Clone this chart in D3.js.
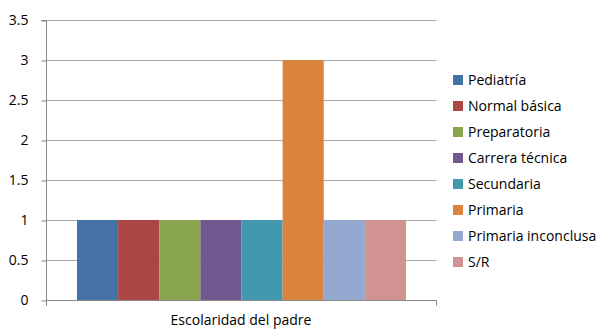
<!DOCTYPE html>
<html><head><meta charset="utf-8">
<script src="https://cdn.jsdelivr.net/npm/d3@7"></script>
<style>body{margin:0;background:#fff}svg{display:block}</style>
</head><body><svg id="c" width="598" height="329"></svg>
<script>
const category = "Escolaridad del padre";
const seriesNames = ["Pediatría","Normal básica","Preparatoria","Carrera técnica","Secundaria","Primaria","Primaria inconclusa","S/R"];
const seriesValues = [1,1,1,1,1,3,1,1];
const seriesColors = ["#4572A7","#AA4643","#89A54E","#71588F","#4198AF","#DB843D","#93A9CF","#D19392"];
const yTicks = [0,0.5,1,1.5,2,2.5,3,3.5];

const svg = d3.select("#c");
const font = "'Open Sans', sans-serif";
const fs = 14;
const L = 46.5, R = 436.5, T = 20, B = 300;
const y = d3.scaleLinear().domain([0,3.5]).range([B,T]);
const x0 = d3.scaleBand().domain([category]).range([L,R]).paddingOuter(0);
const x1 = d3.scaleBand().domain(seriesNames).range([x0(category)+30.5, x0(category)+x0.bandwidth()-30.5]);

// gridlines
svg.append("g").selectAll("line").data(yTicks.filter(d=>d>0)).join("line")
  .attr("x1",L).attr("x2",R).attr("y1",d=>Math.round(y(d))+0.5).attr("y2",d=>Math.round(y(d))+0.5)
  .attr("stroke","#a6a6a6").attr("stroke-width",1);

// bars
svg.append("g").selectAll("rect").data(seriesNames).join("rect")
  .attr("x",(d)=>x1(d)).attr("width",x1.bandwidth())
  .attr("y",(d,i)=>y(seriesValues[i])).attr("height",(d,i)=>B-y(seriesValues[i]))
  .attr("fill",(d,i)=>seriesColors[i]);

// y axis
const ya = svg.append("g").attr("transform",`translate(${L},0.5)`)
  .call(d3.axisLeft(y).tickValues(yTicks).tickFormat(d=>String(d)).tickSize(5).tickPadding(13));
ya.select(".domain").attr("stroke","#868686").attr("d",`M-5,${T}H0V${B+5}`);
ya.selectAll(".tick line").attr("stroke","#868686");
ya.selectAll("text").attr("font-family",font).attr("font-size",fs).attr("fill","#000").attr("dy","0.32em");

// x axis
const xa = svg.append("g").attr("transform",`translate(0,${B+0.5})`)
  .call(d3.axisBottom(x0).tickSize(0).tickFormat(""));
xa.select(".domain").attr("stroke","#868686").attr("d",`M${L},5V0H${R}V5`);
svg.append("text").attr("x",x0(category)+x0.bandwidth()/2-0.5).attr("y",325)
  .attr("text-anchor","middle").attr("font-family",font).attr("font-size",fs).attr("fill","#000")
  .text(category);

// legend
const lg = svg.append("g").selectAll("g").data(seriesNames).join("g")
  .attr("transform",(d,i)=>`translate(453,${80+i*26})`);
lg.append("rect").attr("x",0).attr("y",-5).attr("width",10).attr("height",10).attr("fill",(d,i)=>seriesColors[i]);
lg.append("text").attr("x",15).attr("y",0).attr("dy","0.35em").attr("font-family",font).attr("font-size",fs).attr("fill","#000").text(d=>d);
</script></body></html>
